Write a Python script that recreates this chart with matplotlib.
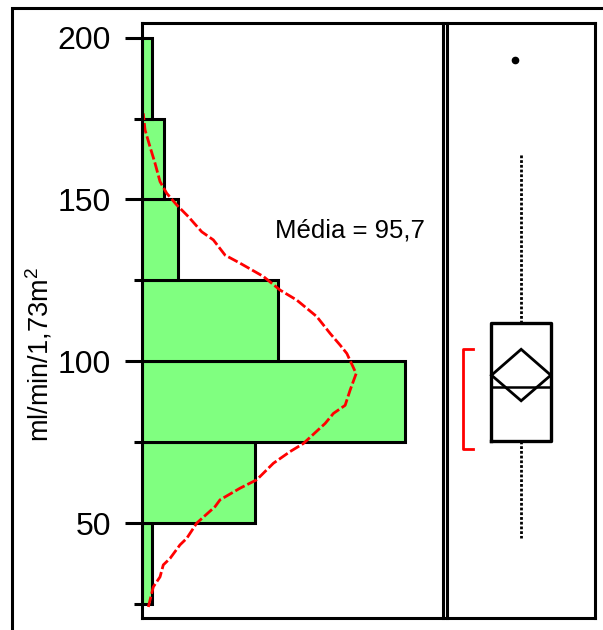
import matplotlib
matplotlib.use("Agg")
import matplotlib.pyplot as plt
from matplotlib.patches import Polygon, Rectangle
from matplotlib.ticker import FixedLocator

plt.rcParams['font.family'] = ['Liberation Sans', 'DejaVu Sans']

# histogram bins (ml/min/1,73m2) and share of patients per bin (%)
bin_edges = [25, 50, 75, 100, 125, 150, 175, 200]
bin_pct = [1.7, 19.2, 44.5, 23.1, 6.1, 3.8, 1.7]

# smoothed density curve drawn over the histogram (x in %, y in ml/min)
curve_x = [1.12, 1.96, 3.10, 3.65, 4.79, 6.48, 7.61, 9.30, 12.40, 13.24,
           16.63, 19.45, 22.26, 25.08, 27.33, 31.01, 32.41, 34.39, 35.23, 36.25,
           34.68, 33.54, 31.85, 29.60, 26.22, 23.39, 20.57, 16.63, 14.09, 12.11,
           10.15, 7.88, 5.92, 4.23, 3.10, 2.25, 1.40, 0.56, 0.27]
curve_y = [24.1, 30.3, 33.4, 37.1, 39.1, 43.3, 45.3, 50.0, 55.1, 57.2,
           60.8, 63.4, 68.5, 72.1, 74.6, 80.8, 83.9, 86.4, 91.1, 96.2,
           102.4, 105.0, 108.6, 113.8, 118.9, 122.0, 126.2, 130.3, 132.8, 137.5,
           140.0, 144.7, 148.3, 151.9, 155.5, 161.2, 166.3, 171.5, 176.6]

# box plot summary
q1, median, q3 = 75.5, 92.2, 111.7
whisker_lo, whisker_hi = 45.3, 164.3
outliers = [193.1]
mean, mean_ci_lo, mean_ci_hi = 95.7, 87.8, 103.7
shortest_half = (72.8, 103.7)

LW = 2.2

fig = plt.figure(figsize=(6.03, 6.30), dpi=100)

# outer frame (only top and left edges are visible in the crop)
fig.patches.append(Rectangle((11.7 / 603, -0.5), 2.0, 0.5 + 1 - 8.3 / 630,
                             transform=fig.transFigure, fill=False,
                             lw=LW, ec='black'))

bottom = 1 - 618.3 / 630
height = (618.3 - 22.7) / 630
ax = fig.add_axes([141.7 / 603, bottom, (443.5 - 141.7) / 603, height])
ax2 = fig.add_axes([447 / 603, bottom, (595.3 - 447) / 603, height], sharey=ax)

######## Histogram ########
centers = [(a + b) / 2 for a, b in zip(bin_edges[:-1], bin_edges[1:])]
ax.barh(centers, bin_pct, height=25, left=0, color='#80FF80',
        edgecolor='black', linewidth=LW)
ax.plot(curve_x, curve_y, color='#FF0000', lw=2.0, dashes=[3.8, 1.1])
ax.text(35.2, 140.4, 'Média = 95,7', fontsize=18.5, ha='center', va='center')

ax.set_xlim(0, 51.1 * (443.5 - 141.7) / (444 - 141.7))
ax.set_ylim(20.6, 204.6)
ax.set_xticks([])
ax.yaxis.set_major_locator(FixedLocator([50, 100, 150, 200]))
ax.yaxis.set_minor_locator(FixedLocator([25, 75, 125, 175]))
ax.tick_params(axis='y', which='major', length=12.2, width=LW, pad=10, labelsize=23)
ax.tick_params(axis='y', which='minor', length=5.8, width=LW)
for s in ax.spines.values():
    s.set_linewidth(LW)

fig.text(39 / 603, 1 - 355 / 630, r'$\mathregular{ml/min/1{,}73m^2}$',
         rotation=90, ha='center', va='center', fontsize=19.5)

######## Box plot ########
stats = [{'med': median, 'q1': q1, 'q3': q3, 'whislo': whisker_lo,
          'whishi': whisker_hi, 'fliers': []}]
ax2.bxp(stats, positions=[0.5], widths=0.4, showcaps=False, showfliers=False,
        boxprops=dict(color='black', lw=2.4),
        medianprops=dict(color='black', lw=1.8),
        whiskerprops=dict(color='black', lw=2.0, dashes=[1, 0.7]))
ax2.plot([0.46] * len(outliers), outliers, 'o', color='black', ms=4.5)

# mean confidence diamond
ax2.add_patch(Polygon([(0.3, mean), (0.5, mean_ci_hi), (0.7, mean), (0.5, mean_ci_lo)],
                      closed=True, fill=False, ec='black', lw=2.0))

# shortest half bracket
lo, hi = shortest_half
ax2.plot([0.176, 0.106, 0.106, 0.176], [hi, hi, lo, lo], color='#FF0000', lw=2.0)

ax2.set_xlim(0, 1)
ax2.set_xticks([])
ax2.tick_params(axis='y', which='both', left=False, labelleft=False)
for s in ax2.spines.values():
    s.set_linewidth(LW)

fig.savefig('out.png', dpi=100)
